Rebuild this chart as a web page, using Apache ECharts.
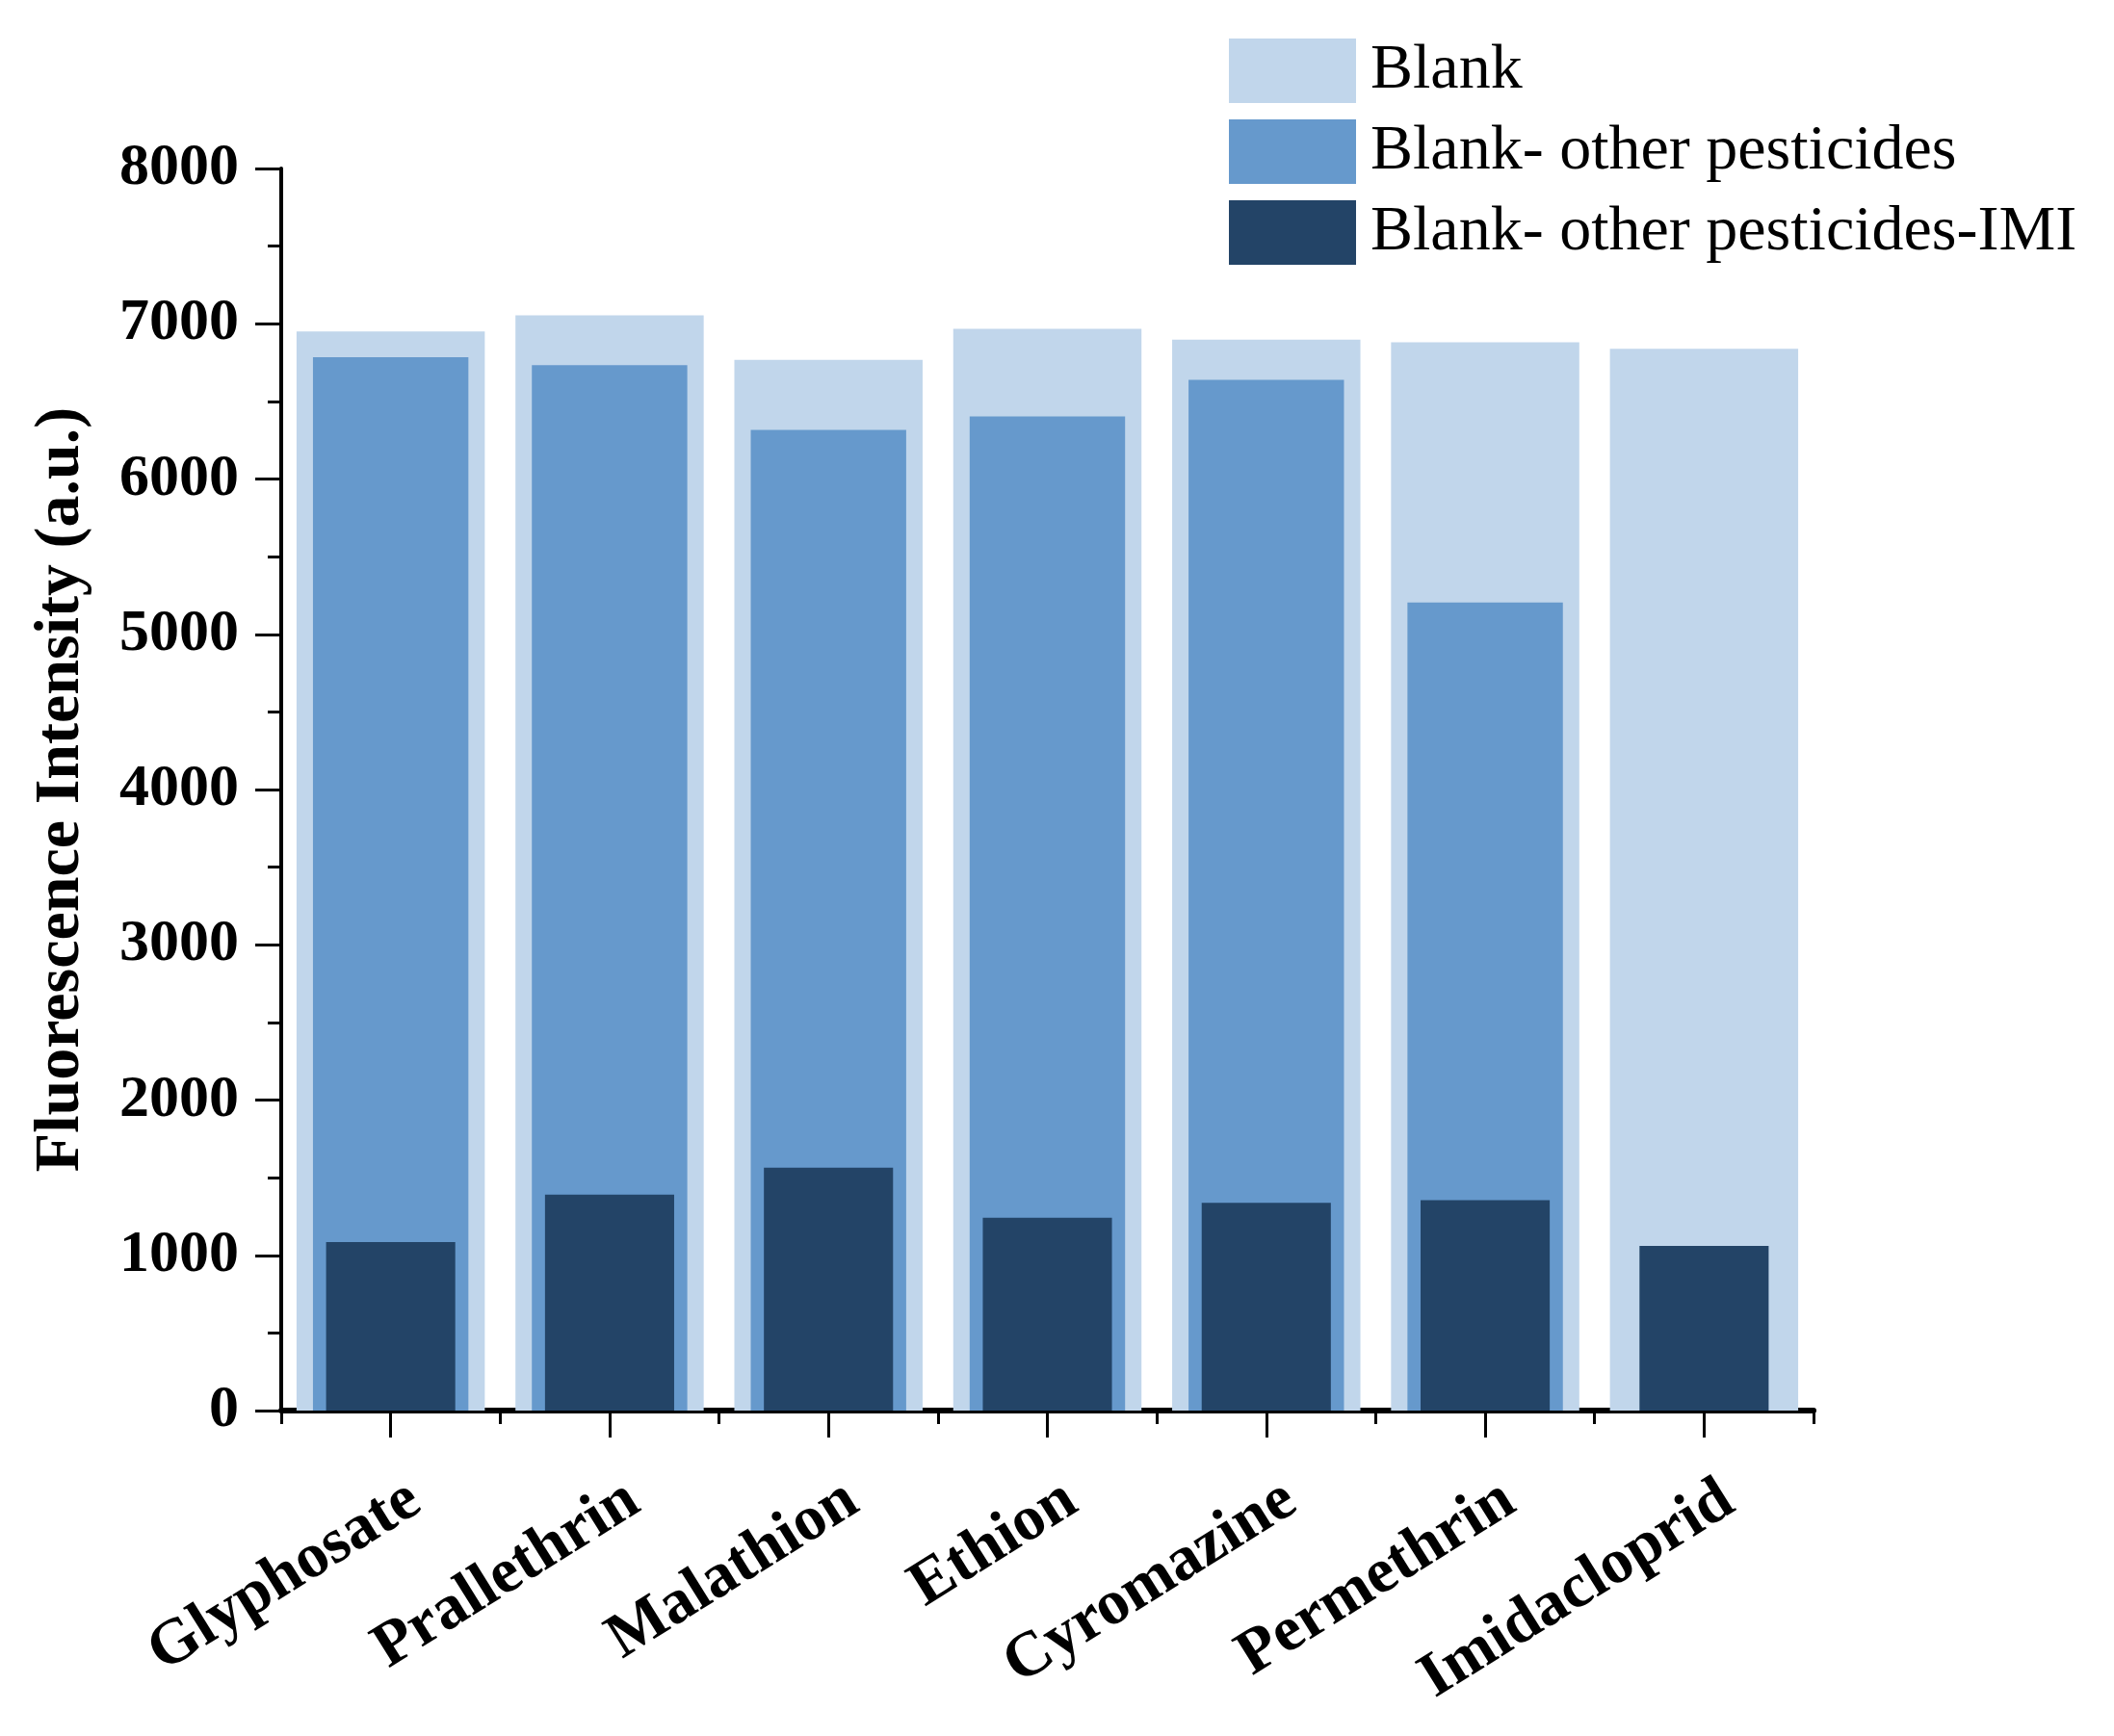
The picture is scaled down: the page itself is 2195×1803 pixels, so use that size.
<!DOCTYPE html>
<html>
<head>
<meta charset="utf-8">
<script src="https://cdn.jsdelivr.net/npm/echarts@6/dist/echarts.min.js"></script>
<style>
  html, body { margin: 0; padding: 0; background: #fff; }
  #chart { width: 2195px; height: 1803px; }
</style>
</head>
<body>
<div id="chart"></div>
<script>
var categories = ['Glyphosate', 'Prallethrin', 'Malathion', 'Ethion', 'Cyromazine', 'Permethrin', 'Imidacloprid'];
var seriesNames = ['Blank', 'Blank- other pesticides', 'Blank- other pesticides-IMI'];
var blank = [6950, 7055, 6768, 6968, 6898, 6881, 6838];
var blankOther = [6785, 6733, 6316, 6403, 6638, 5204, null];
var blankOtherImi = [1086, 1390, 1564, 1242, 1338, 1355, 1060];
var yTicks = { min: 0, max: 8000, step: 1000 };

function drawChart () {
  var chartDom = document.getElementById('chart');
  var myChart = echarts.init(chartDom);
  var font = 'Liberation Serif';
  var option;

  option = {
    backgroundColor: '#fff',
    animation: false,
    grid: { left: 292, right: 312, top: 175, bottom: 338 },
    legend: {
      orient: 'vertical',
      left: 1271,
      top: 35,
      itemWidth: 132,
      itemHeight: 67,
      itemGap: 17,
      icon: 'rect',
      data: seriesNames,
      textStyle: { fontFamily: font, fontSize: 66, color: '#000', padding: [0, 0, 0, 10] }
    },
    xAxis: [
      {
        type: 'category',
        position: 'bottom',
        data: categories,
        axisLine: { lineStyle: { color: '#000', width: 6 } },
        axisTick: { show: true, alignWithLabel: false, length: 14, lineStyle: { color: '#000', width: 3 } },
        axisLabel: {
          rotate: 32,
          margin: 104,
          padding: [0, -30, 0, 0],
          interval: 0,
          fontFamily: font,
          fontWeight: 'bold',
          fontSize: 66,
          color: '#000'
        }
      },
      {
        type: 'category',
        position: 'bottom',
        data: categories,
        axisLine: { show: false },
        axisTick: { show: true, alignWithLabel: true, length: 28, lineStyle: { color: '#000', width: 3 } },
        axisLabel: { show: false }
      },
      {
        type: 'category',
        position: 'bottom',
        data: categories,
        show: false
      }
    ],
    yAxis: {
      type: 'value',
      min: yTicks.min,
      max: yTicks.max,
      interval: yTicks.step,
      axisLine: { show: true, lineStyle: { color: '#000', width: 4 } },
      axisTick: { show: true, length: 27, lineStyle: { color: '#000', width: 3 } },
      minorTick: { show: true, splitNumber: 2, length: 14, lineStyle: { color: '#000', width: 3 } },
      splitLine: { show: false },
      axisLabel: {
        margin: 44,
        fontFamily: font,
        fontWeight: 'bold',
        fontSize: 62,
        color: '#000',
        formatter: function (v) { return String(v); }
      },
      name: 'Fluorescence Intensity (a.u.)',
      nameLocation: 'middle',
      nameGap: 195,
      nameTextStyle: { fontFamily: font, fontWeight: 'bold', fontSize: 66, color: '#000' }
    },
    series: [
      {
        name: seriesNames[0],
        type: 'bar',
        xAxisIndex: 0,
        barWidth: '86%',
        itemStyle: { color: '#c1d6eb' },
        data: blank
      },
      {
        name: seriesNames[1],
        type: 'bar',
        xAxisIndex: 1,
        barWidth: '71%',
        itemStyle: { color: '#6699cc' },
        data: blankOther
      },
      {
        name: seriesNames[2],
        type: 'bar',
        xAxisIndex: 2,
        barWidth: '59%',
        itemStyle: { color: '#234467' },
        data: blankOtherImi
      }
    ]
  };

  option && myChart.setOption(option);
}

drawChart()
</script>
</body>
</html>
